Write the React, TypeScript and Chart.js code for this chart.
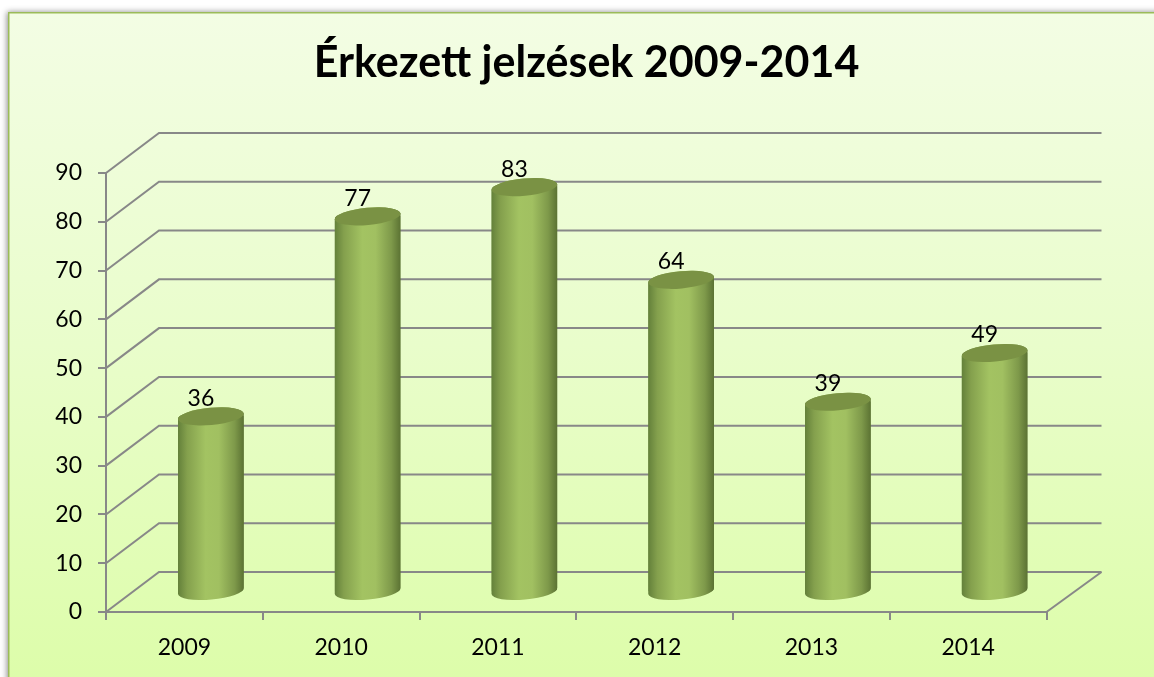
import React, { useEffect, useRef } from "react";
import { Chart, registerables } from "chart.js";

Chart.register(...registerables);

const categories = ["2009", "2010", "2011", "2012", "2013", "2014"];
const signals = [36, 77, 83, 64, 39, 49];
const chartTitle = "Érkezett jelzések 2009-2014";
const yMax = 90;
const yStep = 10;

const FONT = "Lato";
const GRID = "#888888";
const DEPTH_X = 53;
const DEPTH_Y = 40;
const RX = 33;
const RY = 8.6;
const TILT = -0.09;

const cylinderPath = (ctx: CanvasRenderingContext2D, el: any) => {
  ctx.moveTo(el.x + RX * Math.cos(TILT), el.y + RX * Math.sin(TILT));
  ctx.ellipse(el.x, el.y, RX, RY, TILT, 0, Math.PI, true);
  ctx.lineTo(el.x - RX * Math.cos(TILT), el.base - RX * Math.sin(TILT));
  ctx.ellipse(el.x, el.base, RX, RY, TILT, Math.PI, 0, true);
  ctx.closePath();
};

const scene = {
  id: "scene3d",
  beforeDraw(chart: any) {
    const { ctx, width, height } = chart;
    const g = ctx.createLinearGradient(0, 13, 0, height);
    g.addColorStop(0, "#f3fde4");
    g.addColorStop(0.5, "#e9fdcb");
    g.addColorStop(1, "#ddfdaa");
    ctx.save();
    ctx.shadowColor = "rgba(0,0,0,0.45)";
    ctx.shadowBlur = 6;
    ctx.shadowOffsetX = -2;
    ctx.shadowOffsetY = -1;
    ctx.fillStyle = "#ffffff";
    ctx.fillRect(9, 13, width + 20, height + 20);
    ctx.restore();
    ctx.fillStyle = g;
    ctx.fillRect(9, 13, width, height);
    ctx.strokeStyle = "#9bbb59";
    ctx.lineWidth = 1.5;
    ctx.beginPath();
    ctx.moveTo(8.75, height + 5);
    ctx.lineTo(8.75, 12.75);
    ctx.lineTo(width + 5, 12.75);
    ctx.stroke();
  },
  beforeDatasetsDraw(chart: any) {
    const { ctx, chartArea, scales } = chart;
    const { left, right } = chartArea;
    ctx.save();
    ctx.strokeStyle = GRID;
    ctx.lineWidth = 2;
    ctx.lineJoin = "miter";
    scales.y.ticks.forEach((t: any) => {
      const y = scales.y.getPixelForValue(t.value);
      ctx.beginPath();
      ctx.moveTo(left, y);
      ctx.lineTo(left + DEPTH_X, y - DEPTH_Y);
      ctx.lineTo(right + DEPTH_X + 2, y - DEPTH_Y);
      ctx.stroke();
    });
    const y0 = scales.y.getPixelForValue(0);
    ctx.beginPath();
    ctx.moveTo(right + DEPTH_X + 2, y0 - DEPTH_Y);
    ctx.lineTo(right, y0);
    ctx.stroke();
    ctx.restore();
  },
  beforeDatasetDraw(chart: any, args: any) {
    const { ctx } = chart;
    ctx.save();
    ctx.translate(DEPTH_X / 2, -DEPTH_Y / 2);
    args.meta.data.forEach((el: any) => {
      ctx.beginPath();
      cylinderPath(ctx, el);
      ctx.fillStyle = el.options.backgroundColor;
      ctx.fill();
    });
    ctx.beginPath();
    args.meta.data.forEach((el: any) => cylinderPath(ctx, el));
    ctx.clip();
  },
  afterDatasetDraw(chart: any, args: any) {
    const { ctx } = chart;
    ctx.restore();
    ctx.save();
    ctx.translate(DEPTH_X / 2, -DEPTH_Y / 2);
    args.meta.data.forEach((el: any) => {
      ctx.beginPath();
      ctx.ellipse(el.x, el.y, RX, RY, TILT, 0, Math.PI * 2);
      ctx.fillStyle = "#7a9244";
      ctx.fill();
    });
    ctx.fillStyle = "#000000";
    ctx.font = `23px ${FONT}`;
    ctx.textAlign = "center";
    ctx.textBaseline = "middle";
    args.meta.data.forEach((el: any, i: number) => {
      ctx.fillText(String(signals[i]), el.x - 10, el.y - 18);
    });
    ctx.restore();
  },
};

export default function App() {
  const ref = useRef<HTMLCanvasElement>(null);
  useEffect(() => {
    if (!ref.current) return;
    const chart = new Chart(ref.current, {
      type: "bar",
      plugins: [scene],
      data: {
        labels: categories,
        datasets: [
          {
            label: "Érkezett jelzések",
            data: signals,
            clip: false,
            barThickness: 65,
            borderWidth: 0,
            backgroundColor: (c: any) => {
              const xs = c.chart.scales.x;
              if (!xs || c.dataIndex === undefined) return "#9dbb5e";
              const cx = xs.getPixelForValue(c.dataIndex);
              if (!Number.isFinite(cx)) return "#9dbb5e";
              const g = c.chart.ctx.createLinearGradient(cx - RX, 0, cx + RX, 0);
              g.addColorStop(0, "#63803a");
              g.addColorStop(0.14, "#84a04d");
              g.addColorStop(0.42, "#a3c362");
              g.addColorStop(0.62, "#a1c061");
              g.addColorStop(0.86, "#7e994a");
              g.addColorStop(1, "#5b7233");
              return g;
            },
          } as any,
        ],
      },
      options: {
        responsive: false,
        animation: false,
        layout: { padding: { left: 19, right: 0, top: 0, bottom: 0 } },
        plugins: {
          legend: { display: false },
          tooltip: { enabled: false },
          title: {
            display: true,
            text: chartTitle,
            color: "#000000",
            font: { family: FONT, size: 43, weight: "bold", lineHeight: 1.2 },
            padding: { top: 37, bottom: 84.4 },
          },
        },
        scales: {
          x: {
            grid: { drawOnChartArea: false, drawTicks: true, tickLength: 8, color: GRID, lineWidth: 2 },
            border: { color: GRID, width: 2 },
            ticks: { color: "#000000", font: { family: FONT, size: 23 }, padding: 14, maxRotation: 0 },
            afterFit: (s: any) => {
              s.height = 65;
            },
          },
          y: {
            min: 0,
            max: yMax,
            grid: { drawOnChartArea: false, drawTicks: true, tickLength: 8, color: GRID, lineWidth: 2 },
            border: { color: GRID, width: 2 },
            ticks: { stepSize: yStep, color: "#000000", font: { family: FONT, size: 23 }, padding: 16 },
            afterFit: (s: any) => {
              s.width = 87;
            },
          },
          spacer: {
            position: "right",
            display: true,
            grid: { display: false },
            border: { display: false },
            ticks: { display: false },
            afterFit: (s: any) => {
              s.width = 107.5;
            },
          },
        },
      } as any,
    });
    return () => chart.destroy();
  }, []);
  return (
    <div style={{ position: "fixed", left: 0, top: 0 }}>
      <canvas ref={ref} width={1154} height={677} style={{ display: "block" }} />
    </div>
  );
}
